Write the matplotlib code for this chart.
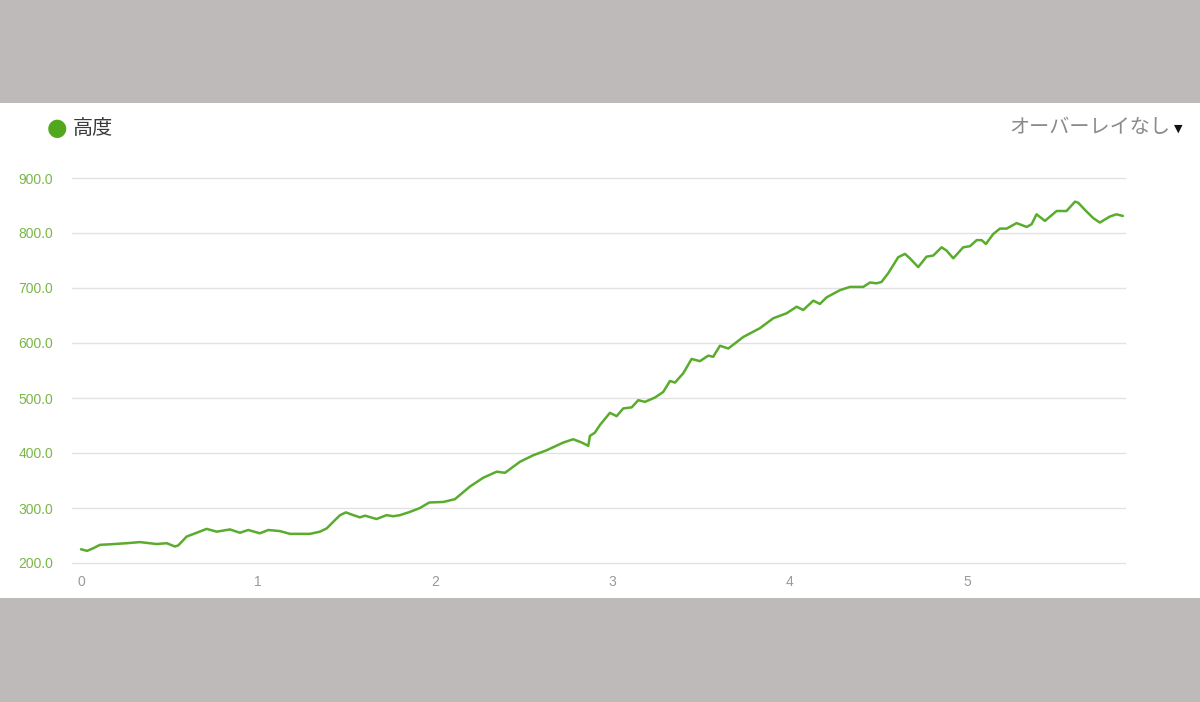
import matplotlib
matplotlib.use("Agg")
import matplotlib.pyplot as plt
from matplotlib.patches import Rectangle

plt.rcParams['font.family'] = ['Liberation Sans', 'Noto Sans CJK JP', 'DejaVu Sans']

# distance (km) and elevation (m)
dist = [0.0, 0.034, 0.07, 0.107, 0.164, 0.258, 0.333, 0.427, 0.484, 0.53, 0.549,
        0.596, 0.653, 0.709, 0.766, 0.841, 0.897, 0.944, 1.01, 1.057, 1.123,
        1.179, 1.236, 1.292, 1.349, 1.387, 1.424, 1.462, 1.495, 1.537, 1.574,
        1.603, 1.668, 1.725, 1.762, 1.80, 1.857, 1.913, 1.965, 2.045, 2.11,
        2.195, 2.27, 2.346, 2.393, 2.477, 2.553, 2.628, 2.722, 2.778, 2.826,
        2.863, 2.872, 2.90, 2.929, 2.985, 3.023, 3.06, 3.108, 3.145, 3.183,
        3.24, 3.286, 3.324, 3.352, 3.399, 3.446, 3.493, 3.54, 3.568, 3.606,
        3.653, 3.738, 3.832, 3.907, 3.982, 4.039, 4.076, 4.133, 4.17, 4.208,
        4.283, 4.34, 4.415, 4.453, 4.49, 4.518, 4.556, 4.612, 4.65, 4.678,
        4.725, 4.772, 4.81, 4.857, 4.885, 4.923, 4.979, 5.017, 5.055, 5.083,
        5.107, 5.148, 5.186, 5.224, 5.28, 5.337, 5.365, 5.393, 5.44, 5.506,
        5.562, 5.61, 5.628, 5.666, 5.713, 5.75, 5.807, 5.844, 5.88]
elev = [225, 222, 227, 233, 234, 236, 238, 234.5, 236, 230, 232,
        248, 255, 262, 257, 261, 255, 260, 254, 260, 258,
        253, 253, 253, 257, 263, 275, 287, 292, 287, 283,
        286, 280, 287, 285, 287, 293, 300, 310, 311, 316,
        339, 355, 366, 364, 384, 396, 405, 419, 425, 419,
        413, 431, 437, 451, 473, 467, 481, 483, 496, 493,
        501, 511, 531, 528, 545, 571, 567, 577, 575, 595,
        590, 611, 627, 645, 654, 666, 660, 677, 671, 683,
        696, 702, 702, 710, 708.5, 711, 727, 756, 762, 754,
        738, 757, 759, 774, 768, 754, 774, 776, 787, 787,
        780, 798, 808, 808, 818, 811, 816, 834, 822, 840,
        840, 857, 855, 842, 827, 819, 830, 834, 831]

y_ticks = [200, 300, 400, 500, 600, 700, 800, 900]
x_ticks = [0, 1, 2, 3, 4, 5]

fig = plt.figure(figsize=(12, 7.02), dpi=100)
fig.patch.set_facecolor('#bebaba')
fig.add_artist(Rectangle((0, 1 - 598 / 702), 1, 495 / 702,
                         transform=fig.transFigure, facecolor='white',
                         edgecolor='none', zorder=0))

ax = fig.add_axes([0.06, 1 - 563 / 702, 0.8775, 385 / 702])
ax.set_facecolor('white')
ax.plot(dist, elev, color='#5aac2c', lw=1.8, solid_joinstyle='round',
        solid_capstyle='round')

ax.set_xlim(-0.0508, 5.892)
ax.set_ylim(200, 900)
ax.set_yticks(y_ticks)
ax.set_yticklabels(['{:.1f}'.format(v) for v in y_ticks])
ax.set_xticks(x_ticks)
ax.grid(axis='y', color='#e2e2e2', lw=1)
for gl in ax.get_ygridlines():
    gl.set_clip_on(False)
ax.set_axisbelow(True)
for s in ax.spines.values():
    s.set_visible(False)
ax.tick_params(axis='y', length=0, pad=13.5, labelsize=10, labelcolor='#7ab648')
ax.tick_params(axis='x', length=0, pad=9, labelsize=10, labelcolor='#9a9a9a')

# legend and overlay menu
fig.text(57 / 1200, 1 - 128 / 702, '●', color='#52a81c', fontsize=17,
         ha='center', va='center', family=['DejaVu Sans'])
fig.text(73 / 1200, 1 - 128 / 702, '高度', color='#3a3a3a', fontsize=14.5,
         ha='left', va='center', family=['Noto Sans CJK JP'])
fig.text(1170 / 1200, 1 - 128 / 702, 'オーバーレイなし', color='#8a8a8a',
         fontsize=14.5, ha='right', va='center', family=['Noto Sans CJK JP'])
fig.text(1178 / 1200, 1 - 129 / 702, '▼', color='#111111', fontsize=8,
         ha='center', va='center', family=['DejaVu Sans'])

fig.savefig('out.png', dpi=100, facecolor=fig.get_facecolor())
